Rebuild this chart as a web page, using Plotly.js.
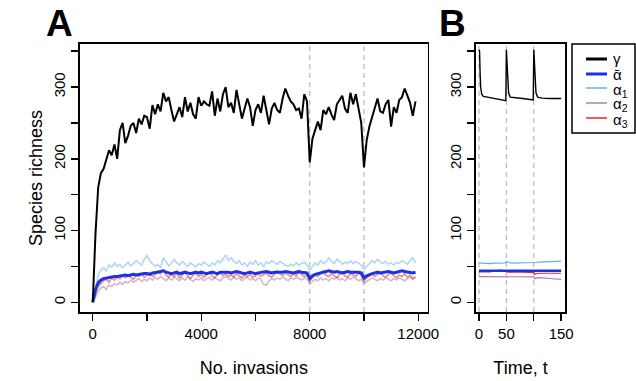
<!DOCTYPE html>
<html>
<head>
<meta charset="utf-8">
<script src="https://cdn.plot.ly/plotly-3.0.1.min.js"></script>
<style>html,body{margin:0;padding:0;background:#fff;}#chart{width:636px;height:381px;}</style>
</head>
<body>
<div id="chart"></div>
<script>
// ---------- Panel A data: step of 100 invasions ----------
const invStep = 100;
const gammaA = [0,95,160,180,186,198,212,205,220,200,240,250,222,232,246,250,236,256,248,260,
258,242,275,262,276,266,292,280,286,268,252,262,272,258,286,266,278,262,256,286,
274,280,276,274,294,260,284,266,290,300,272,278,264,296,278,256,270,284,272,246,
268,276,264,288,268,248,270,278,268,264,284,298,288,280,276,268,270,256,290,280,
195,228,240,252,240,268,262,272,262,254,276,282,288,270,264,292,276,290,268,250,
188,226,245,258,272,284,266,264,276,282,245,272,264,282,286,298,288,278,260,280];
const alphaBarA = [0,18,27,31,33,34,35,35,36,36,37,37,38,37,38,39,38,39,39,40,
40,39,41,41,42,43,44,42,41,40,41,42,40,41,42,41,40,41,42,41,
42,41,40,41,42,41,40,42,42,43,42,41,42,43,42,41,40,41,42,41,
40,41,42,43,43,42,41,42,42,41,42,43,42,42,41,42,43,42,42,41,
33,37,39,40,40,41,42,44,43,42,43,42,41,42,43,42,42,43,42,41,
34,37,39,40,41,42,41,42,42,43,42,41,42,43,44,43,42,42,41,42];
const alpha1A = [0,22,38,45,48,44,52,49,55,50,53,48,52,56,51,54,58,55,52,60,
65,58,54,50,53,48,62,56,51,54,60,55,52,57,53,50,55,52,49,54,
52,56,53,50,55,52,58,55,60,66,58,62,57,54,58,52,55,50,56,53,
58,52,55,50,56,54,58,55,53,57,54,52,50,53,51,55,52,54,56,52,
45,50,55,52,58,54,56,62,57,54,60,57,53,56,54,58,54,57,55,52,
46,50,54,58,55,60,56,54,57,53,55,52,56,54,58,55,53,58,62,55];
const alpha2A = [0,8,15,20,22,18,24,22,26,24,28,25,29,27,31,28,30,33,29,32,
30,34,31,35,32,36,33,30,34,31,35,32,30,34,31,35,32,29,33,31,
34,30,33,35,31,34,32,30,34,36,33,31,35,32,34,30,33,35,31,33,
30,34,32,25,24,30,33,31,34,32,35,33,30,34,32,35,33,31,34,32,
26,29,32,30,34,31,33,30,34,32,35,31,33,30,34,32,35,33,30,32,
26,29,31,34,32,30,33,31,34,32,30,33,31,34,32,30,33,35,32,34];
const alpha3A = [0,12,22,26,30,32,28,34,31,35,33,37,34,38,35,32,38,36,40,35,
38,41,36,39,44,40,46,38,35,39,36,40,34,38,42,37,33,38,41,36,
39,35,38,42,37,34,39,41,37,40,36,38,35,40,37,34,38,36,39,35,
37,40,36,38,41,37,35,39,44,40,37,41,38,36,40,37,42,39,36,38,
30,34,38,36,40,44,38,36,40,37,34,39,42,37,35,40,38,36,41,37,
30,34,37,40,36,39,42,37,35,39,41,37,34,38,36,40,35,38,33,36];
const invasions = gammaA.map((_, i) => i * invStep);
const invasionEvents = [8000, 10000];

// ---------- Panel B data ----------
const timeGamma = [0,1,2,3,5,8,15,30,40,49,50,51,52,54,57,65,80,90,99,100,101,102,104,107,115,130,150];
const gammaB    = [352,350,320,300,290,287,286,284,282,281,352,335,310,292,286,285,284,283,282,352,335,310,292,286,284.5,284,284];
const timeAlpha = [0,5,10,20,30,40,48,50,52,55,60,70,80,90,100,102,105,110,120,130,140,150];
const alphaBarB = [44,44,44,43.5,44,44,44,43,43.5,44,44,44,44,44,43.5,43,43.5,43.5,44,44,44,44];
const alpha1B   = [55,54.5,54,54,54.5,55,55,57,56,55.5,54.5,54.5,55,55,55,55,55.5,56,56.5,57,57,57.5];
const alpha2B   = [35.7,35.7,35.7,35.7,35.7,35.7,35.7,35.7,35.7,35.7,35.7,35.7,35.7,35.7,35.5,33,34,34.5,33.5,33,32.5,32];
const alpha3B   = [42.5,42.5,42,42.5,44,45,44,43,42,42,42.5,42.5,42,42,41.5,39.5,40,40.5,40.5,40.5,40.5,40.5];
const perturbTimes = [0, 50, 100];

// ---------- Text ----------
const yTitle = 'Species richness';
const xTitleA = 'No. invasions';
const xTitleB = 'Time, t';
const legendNames = ['\u03b3', '\u1fb1', '\u03b1<sub>1</sub>', '\u03b1<sub>2</sub>', '\u03b1<sub>3</sub>'];

const FONT = 'Liberation Sans, Arial, Helvetica, sans-serif';
const cBar = 'rgb(25,50,230)';
const c1 = 'rgb(100,175,235)', c2 = 'rgb(170,130,165)', c3 = 'rgb(230,35,35)';
const c1t = 'rgba(110,180,235,0.55)', c2t = 'rgba(160,115,150,0.5)', c3t = 'rgba(210,45,45,0.55)';
const legendColors = ['#000', cBar, c1, c2, c3];
const legendWidths = [3, 3, 1.5, 1.5, 1.5];

const traces = [
  {x: invasions, y: alpha1A, xaxis:'x', yaxis:'y', mode:'lines', name:'\u03b11', line:{color:c1t, width:1.6}},
  {x: invasions, y: alpha2A, xaxis:'x', yaxis:'y', mode:'lines', name:'\u03b12', line:{color:c2t, width:1.6}},
  {x: invasions, y: alpha3A, xaxis:'x', yaxis:'y', mode:'lines', name:'\u03b13', line:{color:c3t, width:1.6}},
  {x: invasions, y: alphaBarA, xaxis:'x', yaxis:'y', mode:'lines', name:'mean \u03b1', line:{color:cBar, width:3}},
  {x: invasions, y: gammaA, xaxis:'x', yaxis:'y', mode:'lines', name:'\u03b3', line:{color:'#000', width:2}},
  {x: timeAlpha, y: alpha1B, xaxis:'x2', yaxis:'y2', mode:'lines', name:'\u03b11', line:{color:c1, width:1.2}},
  {x: timeAlpha, y: alpha2B, xaxis:'x2', yaxis:'y2', mode:'lines', name:'\u03b12', line:{color:c2, width:1.2}},
  {x: timeAlpha, y: alpha3B, xaxis:'x2', yaxis:'y2', mode:'lines', name:'\u03b13', line:{color:c3, width:1.2}},
  {x: timeAlpha, y: alphaBarB, xaxis:'x2', yaxis:'y2', mode:'lines', name:'mean \u03b1', line:{color:cBar, width:2.4}},
  {x: timeGamma, y: gammaB, xaxis:'x2', yaxis:'y2', mode:'lines', name:'\u03b3', line:{color:'#000', width:1.4}}
];

const axisCommon = {
  showline:true, mirror:true, linecolor:'#000', linewidth:1.6,
  ticks:'outside', ticklen:7, tickwidth:1.4, tickcolor:'#000',
  showgrid:false, zeroline:false, tickfont:{family:FONT, size:15, color:'#000'}
};
const minorTicks = (d) => ({dtick:d, ticks:'outside', ticklen:7, tickwidth:1.4, tickcolor:'#000', showgrid:false});
const yCommon = Object.assign({}, axisCommon, {
  range:[-13.5, 360], tickmode:'linear', tick0:0, dtick:100, tickangle:-90,
  minor:minorTicks(50), domain:[0.1811, 0.8845]
});

const shapes = [];
invasionEvents.forEach(v => shapes.push({type:'line', xref:'x', yref:'y domain', x0:v, x1:v, y0:0, y1:1, layer:'below', line:{color:'#bdbdbd', width:1.3, dash:'5px,4px'}}));
perturbTimes.forEach(v => shapes.push({type:'line', xref:'x2', yref:'y2 domain', x0:v, x1:v, y0:0, y1:1, layer:'below', line:{color:'#bdbdbd', width:1.3, dash:'5px,4px'}}));

// manual legend (paper coordinates)
const W = 636, H = 381;
const px = (v) => v / W, py = (v) => 1 - v / H;
shapes.push({type:'rect', xref:'paper', yref:'paper', x0:px(572), x1:px(635), y0:py(44), y1:py(133), line:{color:'#000', width:1.5}, fillcolor:'#fff', layer:'above'});
const legendRows = [59, 74, 88, 103, 118];
const annotations = [
  {text:'<b>A</b>', xref:'paper', yref:'paper', x:px(44), y:py(46), xanchor:'left', yanchor:'bottom', showarrow:false, font:{family:FONT, size:37}},
  {text:'<b>B</b>', xref:'paper', yref:'paper', x:px(437), y:py(46), xanchor:'left', yanchor:'bottom', showarrow:false, font:{family:FONT, size:37}}
];
legendNames.forEach((nm, i) => {
  shapes.push({type:'line', xref:'paper', yref:'paper', x0:px(586), x1:px(607), y0:py(legendRows[i]), y1:py(legendRows[i]), layer:'above', line:{color:legendColors[i], width:legendWidths[i]}});
  const hasSub = nm.indexOf('<sub>') >= 0;
  annotations.push({text:nm, xref:'paper', yref:'paper', x:px(611), y:py(legendRows[i] + (hasSub ? 2 : 0)), xanchor:'left', yanchor:'middle', showarrow:false,
    font:{family:'Liberation Sans, DejaVu Sans, sans-serif', size:15, color:'#000'}});
});

const layout = {
  width:W, height:H, margin:{l:0, r:0, t:0, b:0},
  paper_bgcolor:'#fff', plot_bgcolor:'#fff',
  font:{family:FONT, color:'#000'},
  showlegend:false,
  xaxis: Object.assign({}, axisCommon, {
    domain:[0.1258, 0.6725], range:[-470, 12350], anchor:'y',
    tickmode:'linear', tick0:0, dtick:4000, tickformat:'d', minor:minorTicks(2000),
    title:{text:xTitleA, font:{family:FONT, size:18}, standoff:21}
  }),
  yaxis: Object.assign({}, yCommon, {anchor:'x', title:{text:yTitle, font:{family:FONT, size:18}, standoff:4}}),
  xaxis2: Object.assign({}, axisCommon, {
    domain:[0.7484, 0.8884], range:[-5.5, 157], anchor:'y2',
    tickmode:'array', tickvals:[0,50,150], minor:minorTicks(50),
    title:{text:xTitleB, font:{family:FONT, size:18}, standoff:21}
  }),
  yaxis2: Object.assign({}, yCommon, {anchor:'x2'}),
  shapes: shapes,
  annotations: annotations
};

Plotly.newPlot('chart', traces, layout, {displayModeBar:false, staticPlot:true});
</script>
</body>
</html>
